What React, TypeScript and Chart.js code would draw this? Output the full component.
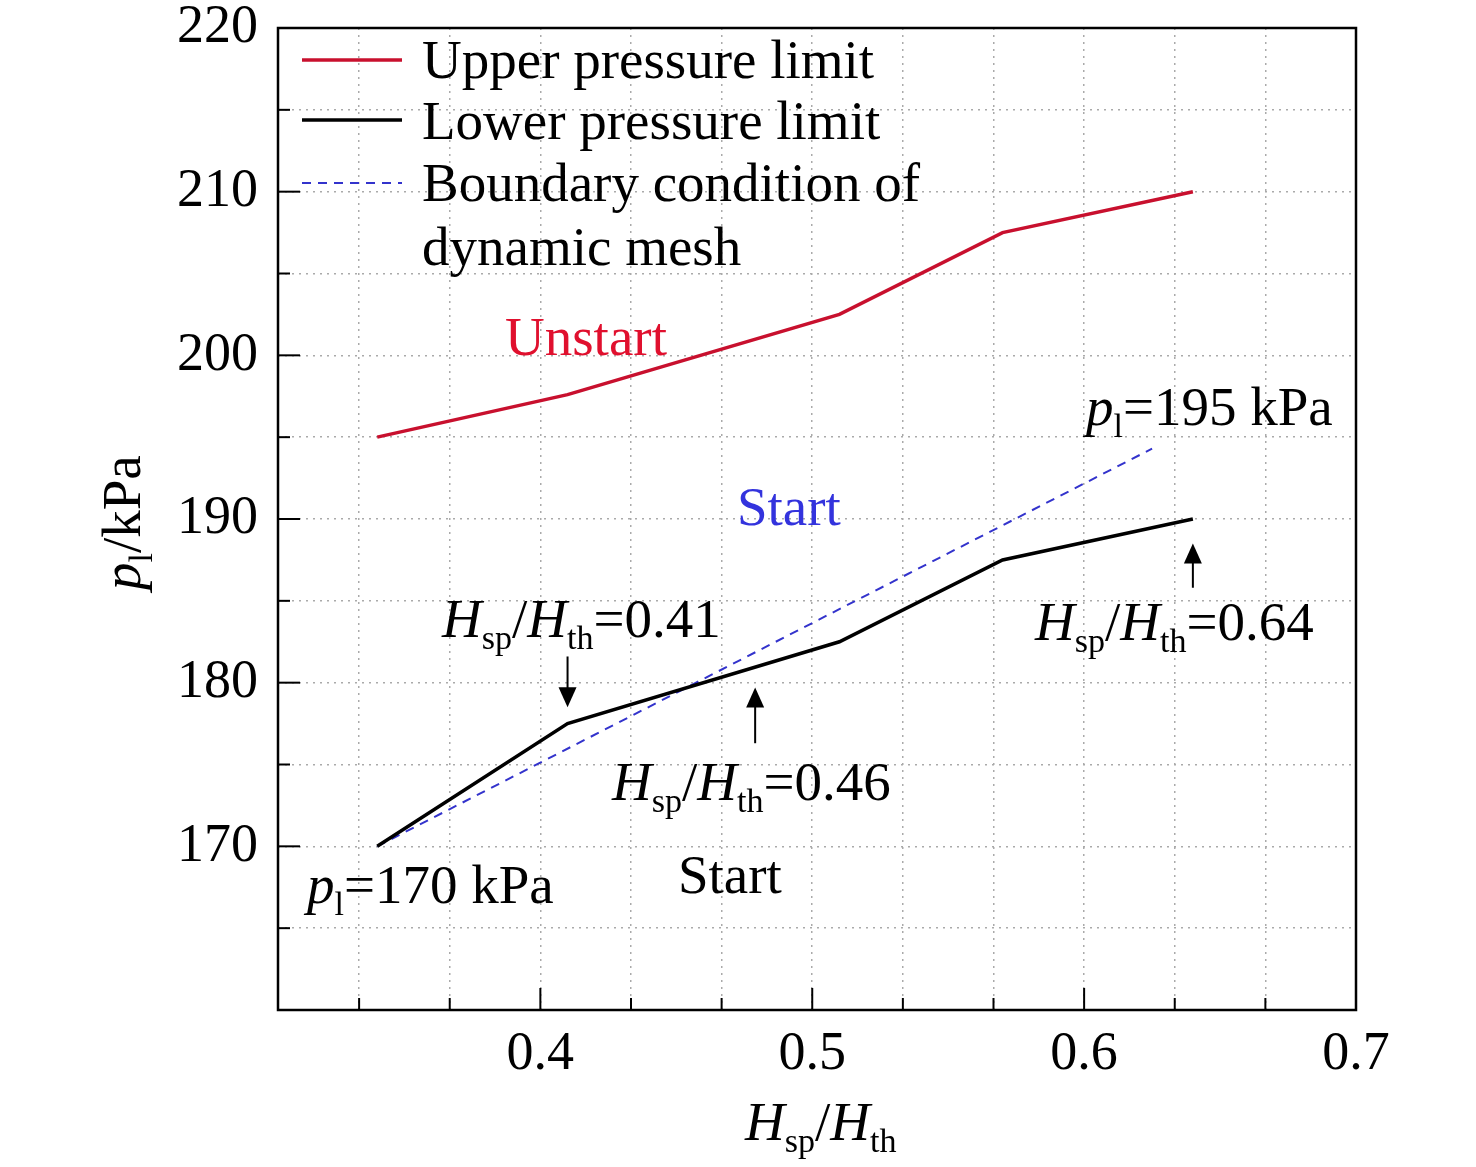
import React, { useEffect, useRef } from "react";
import { Chart, registerables } from "chart.js";
Chart.register(...registerables);

const xUpper = [0.34, 0.41, 0.51, 0.57, 0.64];
const upper = [195, 197.6, 202.5, 207.5, 210];
const xLower = [0.34, 0.41, 0.51, 0.57, 0.64];
const lower = [170, 177.5, 182.5, 187.5, 190];
const xBoundary = [0.34, 0.625];
const boundary = [170, 194.3];
const xTicks = [1/3, 11/30, 0.4, 13/30, 14/30, 0.5, 16/30, 17/30, 0.6, 19/30, 20/30, 0.7];
const yTicks = [165, 170, 175, 180, 185, 190, 195, 200, 205, 210, 215, 220];
const majorX = [0.4, 0.5, 0.6, 0.7];

const F = '"Liberation Serif", "Times New Roman", serif';
type Seg = { t: string; i?: boolean; s?: boolean; c?: string };

function rich(ctx: CanvasRenderingContext2D, segs: Seg[], x: number, y: number, size: number, color: string) {
  ctx.textBaseline = "alphabetic";
  ctx.textAlign = "left";
  let cx = x;
  for (const s of segs) {
    const sz = s.s ? size * 0.62 : size;
    ctx.font = `${s.i ? "italic " : ""}${sz}px ${F}`;
    ctx.fillStyle = s.c || color;
    ctx.fillText(s.t, cx, s.s ? y + size * 0.22 : y);
    cx += ctx.measureText(s.t).width;
  }
}

const annot = {
  id: "annot",
  afterDraw(chart: any) {
    const { ctx, scales, chartArea: a } = chart;
    const X = (v: number) => scales.x.getPixelForValue(v);
    const Y = (v: number) => scales.y.getPixelForValue(v);
    ctx.save();
    ctx.strokeStyle = "#000";
    ctx.lineWidth = 2;
    for (const t of xTicks) {
      const L = majorX.some((m) => Math.abs(m - t) < 1e-6) ? 22 : 12;
      ctx.beginPath(); ctx.moveTo(X(t), a.bottom); ctx.lineTo(X(t), a.bottom - L); ctx.stroke();
    }
    for (const t of yTicks) {
      const L = t % 10 === 0 ? 22 : 12;
      ctx.beginPath(); ctx.moveTo(a.left, Y(t)); ctx.lineTo(a.left + L, Y(t)); ctx.stroke();
    }
    ctx.lineWidth = 2.5;
    ctx.strokeRect(a.left, a.top, a.right - a.left, a.bottom - a.top);
    const lx = 302, rows = [60, 120, 183];
    ctx.lineWidth = 3.5;
    ctx.strokeStyle = "#c8102e"; ctx.beginPath(); ctx.moveTo(lx, rows[0]); ctx.lineTo(lx + 100, rows[0]); ctx.stroke();
    ctx.strokeStyle = "#000"; ctx.beginPath(); ctx.moveTo(lx, rows[1]); ctx.lineTo(lx + 100, rows[1]); ctx.stroke();
    ctx.lineWidth = 2; ctx.setLineDash([9, 7]);
    ctx.strokeStyle = "#3333cc"; ctx.beginPath(); ctx.moveTo(lx, rows[2]); ctx.lineTo(lx + 100, rows[2]); ctx.stroke();
    ctx.setLineDash([]);
    const S = 55;
    rich(ctx, [{ t: "Upper pressure limit" }], 422, 78, S, "#000");
    rich(ctx, [{ t: "Lower pressure limit" }], 422, 139, S, "#000");
    rich(ctx, [{ t: "Boundary condition of" }], 422, 201, S, "#000");
    rich(ctx, [{ t: "dynamic mesh" }], 422, 265, S, "#000");
    rich(ctx, [{ t: "Unstart" }], 505, 355, S, "#e0102e");
    rich(ctx, [{ t: "Start" }], 737, 525, S, "#3333dd");
    rich(ctx, [{ t: "Start" }], 678, 893, S, "#000");
    rich(ctx, [{ t: "p", i: true }, { t: "l", s: true }, { t: "=195 kPa" }], 1086, 425, S, "#000");
    rich(ctx, [{ t: "p", i: true }, { t: "l", s: true }, { t: "=170 kPa" }], 307, 903, S, "#000");
    const H = (v: string): Seg[] => [{ t: "H", i: true }, { t: "sp", s: true }, { t: "/" }, { t: "H", i: true }, { t: "th", s: true }, { t: "=" + v }];
    rich(ctx, H("0.41"), 442, 637, S, "#000");
    rich(ctx, H("0.46"), 612, 800, S, "#000");
    rich(ctx, H("0.64"), 1035, 640, S, "#000");
    const arrow = (x: number, y1: number, y2: number) => {
      const px = X(x), p1 = Y(y1), p2 = Y(y2);
      const dir = p2 > p1 ? 1 : -1;
      ctx.strokeStyle = "#000"; ctx.fillStyle = "#000"; ctx.lineWidth = 2;
      ctx.beginPath(); ctx.moveTo(px, p1); ctx.lineTo(px, p2 - dir * 18); ctx.stroke();
      ctx.beginPath(); ctx.moveTo(px, p2); ctx.lineTo(px - 9, p2 - dir * 20); ctx.lineTo(px + 9, p2 - dir * 20); ctx.closePath(); ctx.fill();
    };
    arrow(0.41, 181.6, 178.5);
    arrow(0.479, 176.3, 179.7);
    arrow(0.64, 185.8, 188.5);
    rich(ctx, [{ t: "H", i: true }, { t: "sp", s: true }, { t: "/" }, { t: "H", i: true }, { t: "th", s: true }], 745, 1140, S, "#000");
    ctx.translate(140, 590); ctx.rotate(-Math.PI / 2);
    rich(ctx, [{ t: "p", i: true }, { t: "l", s: true }, { t: "/kPa" }], 0, 0, S, "#000");
    ctx.restore();
  },
};

export default function App() {
  const ref = useRef<HTMLCanvasElement>(null);
  useEffect(() => {
    document.body.style.margin = "0";
    const pts = (xs: number[], ys: number[]) => xs.map((x, i) => ({ x, y: ys[i] }));
    const grid = { color: "#aaa", lineWidth: 1.5, drawTicks: false };
    const border = { display: false, dash: [2, 5] };
    const chart = new Chart(ref.current!, {
      type: "line",
      data: {
        datasets: [
          { data: pts(xUpper, upper), borderColor: "#c8102e", borderWidth: 3.5, pointRadius: 0 },
          { data: pts(xLower, lower), borderColor: "#000", borderWidth: 3.5, pointRadius: 0 },
          { data: pts(xBoundary, boundary), borderColor: "#3333cc", borderWidth: 2, borderDash: [9, 7], pointRadius: 0 },
        ],
      },
      plugins: [annot],
      options: {
        animation: false,
        responsive: false,
        layout: { padding: { top: 28, right: 120, left: 0, bottom: 0 } },
        plugins: { legend: { display: false }, tooltip: { enabled: false } },
        scales: {
          x: {
            type: "linear", min: 0.3035, max: 0.7,
            afterBuildTicks: (ax: any) => { ax.ticks = xTicks.map((v) => ({ value: v })); },
            afterFit: (ax: any) => { ax.height = 157; },
            grid, border,
            ticks: {
              padding: 12, color: "#000", font: { family: F, size: 54 },
              callback: (v: any) => (majorX.some((m) => Math.abs(m - v) < 1e-6) ? Number(v).toFixed(1) : ""),
            },
          },
          y: {
            min: 160, max: 220,
            afterBuildTicks: (ax: any) => { ax.ticks = yTicks.map((v) => ({ value: v })); },
            afterFit: (ax: any) => { ax.width = 278; ax.paddingTop = 0; },
            grid, border,
            ticks: {
              padding: 20, color: "#000", font: { family: F, size: 54 },
              callback: (v: any) => (v % 10 === 0 ? String(v) : ""),
            },
          },
        },
      },
    });
    return () => chart.destroy();
  }, []);
  return <canvas ref={ref} width={1476} height={1167} style={{ display: "block" }} />;
}
